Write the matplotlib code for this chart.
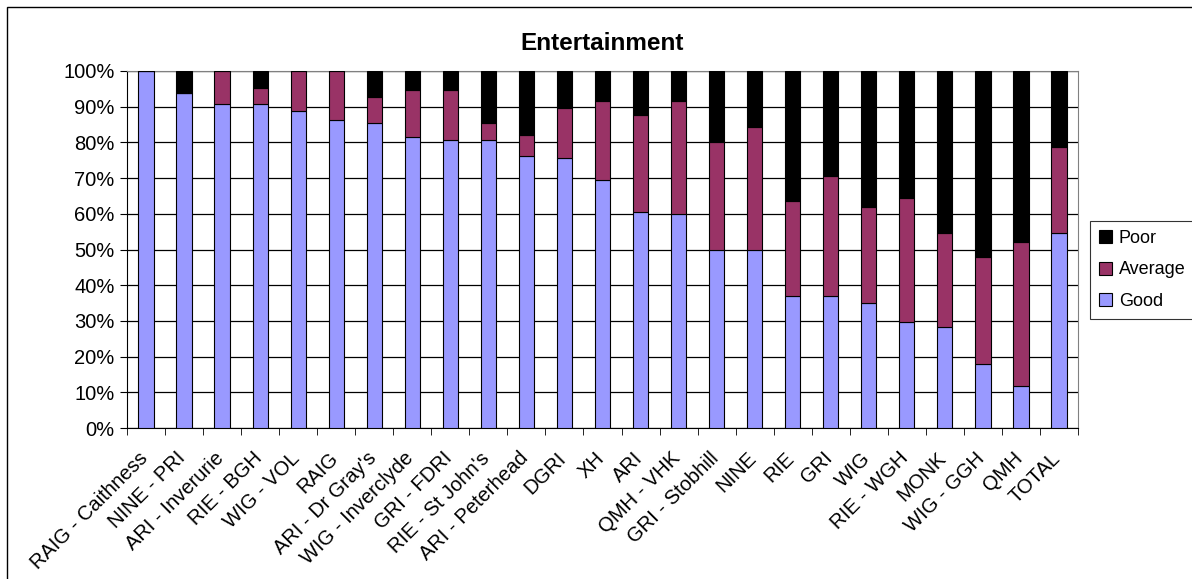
import matplotlib
matplotlib.use("Agg")
import numpy as np
import matplotlib.pyplot as plt
import matplotlib.transforms as mtrans
from matplotlib.patches import Rectangle

plt.rcParams["font.family"] = ["Liberation Sans", "DejaVu Sans"]

categories = [
    "RAIG - Caithness", "NINE - PRI", "ARI - Inverurie", "RIE - BGH", "WIG - VOL",
    "RAIG", "ARI - Dr Gray's", "WIG - Inverclyde", "GRI - FDRI", "RIE - St John's",
    "ARI - Peterhead", "DGRI", "XH", "ARI", "QMH - VHK", "GRI - Stobhill", "NINE",
    "RIE", "GRI", "WIG", "RIE - WGH", "MONK", "WIG - GGH", "QMH", "TOTAL",
]
good = [100.0, 93.8, 90.7, 90.7, 88.8, 86.2, 85.5, 81.4, 80.8, 80.8,
        76.3, 75.5, 69.4, 60.5, 59.9, 50.0, 50.0, 37.1, 37.1, 35.1,
        29.6, 28.3, 18.0, 11.7, 54.7]
average = [0.0, 0.0, 9.3, 4.5, 11.2, 13.8, 7.2, 13.2, 13.8, 4.6,
           5.8, 14.2, 22.2, 27.1, 31.7, 30.2, 34.3, 26.6, 33.5, 26.8,
           34.8, 26.2, 29.9, 40.3, 24.0]
poor = [round(100 - g - a, 1) for g, a in zip(good, average)]

FS = 14.5
fig = plt.figure(figsize=(11.92, 5.79), dpi=100)
ax = fig.add_axes([127 / 1192, 1 - 428 / 579, (1078 - 127) / 1192, (428 - 71) / 579])

x = np.arange(len(categories))
w = 0.4
kw = dict(width=w, edgecolor="black", linewidth=0.8, zorder=3)
ax.bar(x, good, color="#9999FF", label="Good", **kw)
ax.bar(x, average, bottom=good, color="#993366", label="Average", **kw)
ax.bar(x, poor, bottom=np.array(good) + np.array(average), color="black", label="Poor", **kw)

ax.set_xlim(-0.5, len(categories) - 0.5)
ax.set_ylim(0, 100)
ax.set_yticks(np.arange(0, 101, 10))
ax.set_yticklabels([f"{v}%" for v in range(0, 101, 10)], fontsize=FS)
ax.yaxis.grid(True, color="black", linewidth=0.9, zorder=0)
ax.set_axisbelow(True)

ax.set_xticks(x)
ax.set_xticklabels(categories, rotation=45, ha="right", rotation_mode="anchor", fontsize=FS)
ax.tick_params(axis="x", length=0, pad=9)
shift = mtrans.ScaledTranslation(-0.08, -0.08, fig.dpi_scale_trans)
for lab in ax.get_xticklabels():
    lab.set_transform(lab.get_transform() + shift)
ax.set_xticks(np.arange(-0.5, len(categories), 1), minor=True)
ax.tick_params(axis="x", which="minor", length=5, color="black")
ax.tick_params(axis="y", length=5, color="black", pad=4)

for side in ["top", "right"]:
    ax.spines[side].set_color("#808080")
ax.spines["left"].set_color("black")
ax.spines["bottom"].set_color("black")

fig.text(602 / 1192, 1 - 43 / 579, "Entertainment", fontsize=17.5,
         fontweight="bold", ha="center", va="center")

h, l = ax.get_legend_handles_labels()
leg = fig.legend(h[::-1], l[::-1], loc="center left",
                 bbox_to_anchor=(1090 / 1192, 1 - 270 / 579),
                 fontsize=13, frameon=True, fancybox=False, edgecolor="black",
                 handlelength=0.7, handleheight=0.7, handletextpad=0.4,
                 borderpad=0.5, labelspacing=0.8, borderaxespad=0)
leg.get_frame().set_linewidth(0.8)

fig.patches.append(Rectangle((7 / 1192, -0.1), 1.2, 1.1 - 7 / 579,
                             transform=fig.transFigure, fill=False,
                             edgecolor="black", linewidth=1.0))

fig.savefig("out.png", dpi=100)
